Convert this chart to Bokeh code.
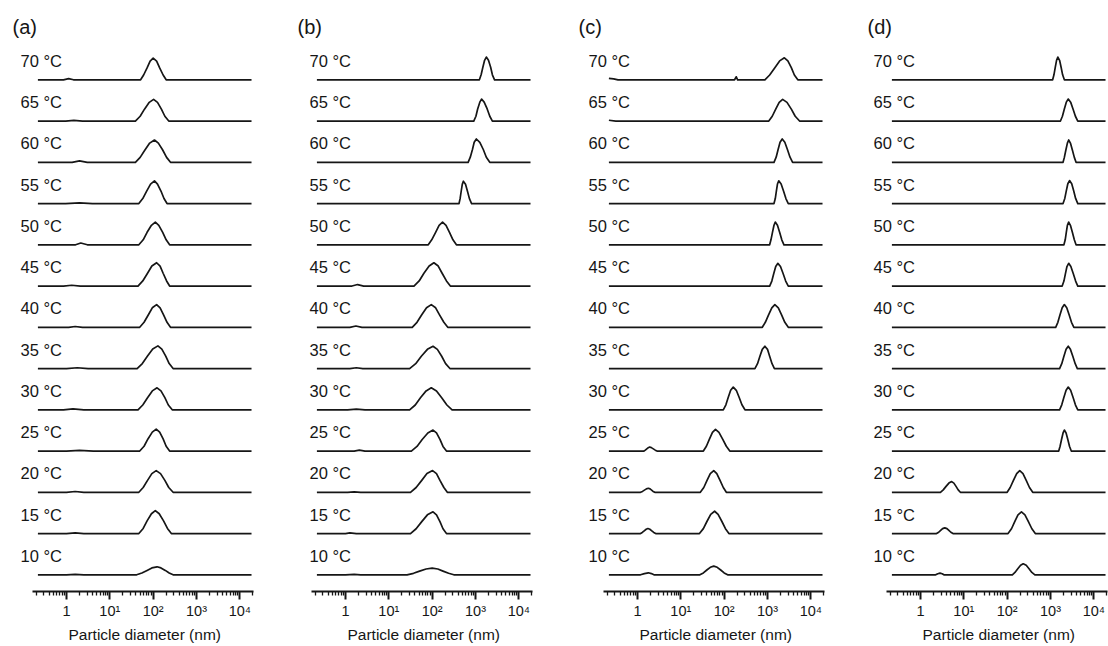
import numpy as np
from bokeh.plotting import figure
from bokeh.models import Range1d, FixedTicker, Label, Title
from bokeh.layouts import row
from bokeh.embed import file_html
from bokeh.resources import INLINE

# ---------------- data ----------------
temperatures = [70, 65, 60, 55, 50, 45, 40, 35, 30, 25, 20, 15, 10]
temp_labels = ["%d °C" % t for t in temperatures]
panel_tags = ["(a)", "(b)", "(c)", "(d)"]
major_ticks = [1, 10, 100, 1000, 10000]
major_tick_labels = ["1", "10¹", "10²", "10³", "10⁴"]
minor_ticks = [0.2, 0.3, 0.4, 0.5, 0.6, 0.7, 0.8, 0.9,
               2, 3, 4, 5, 6, 7, 8, 9,
               20, 30, 40, 50, 60, 70, 80, 90,
               200, 300, 400, 500, 600, 700, 800, 900,
               2000, 3000, 4000, 5000, 6000, 7000, 8000, 9000, 20000]
x_axis_title = "Particle diameter (nm)"

# Each curve: log10(diameter / nm) and relative intensity
# ---- panel (a)
a70_logd = [-0.66, -0.07, 0.05, 0.16, 1.71, 1.78, 1.86, 1.93, 2.00, 2.08, 2.15, 2.23, 2.30, 4.27]
a70_int = [0, 0, 1.2, 0, 0, 4.8, 11.9, 18.7, 21.7, 18.7, 11.9, 4.8, 0, 0]
a65_logd = [-0.66, -0.02, 0.17, 0.37, 1.59, 1.70, 1.80, 1.91, 2.01, 2.10, 2.19, 2.27, 2.36, 4.27]
a65_int = [0, 0, 0.7, 0, 0, 4.8, 11.9, 18.7, 21.7, 18.7, 11.9, 4.8, 0, 0]
a60_logd = [-0.66, 0.13, 0.30, 0.48, 1.59, 1.70, 1.81, 1.92, 2.03, 2.12, 2.22, 2.31, 2.40, 4.27]
a60_int = [0, 0, 1.5, 0, 0, 4.9, 12.3, 19.2, 22.3, 19.2, 12.3, 4.9, 0, 0]
a55_logd = [-0.66, -0.02, 0.30, 0.60, 1.67, 1.76, 1.85, 1.94, 2.03, 2.10, 2.18, 2.25, 2.32, 4.27]
a55_int = [0, 0, 0.7, 0, 0, 5.0, 12.5, 19.5, 22.7, 19.5, 12.5, 5.0, 0, 0]
a50_logd = [-0.66, 0.21, 0.33, 0.48, 1.67, 1.77, 1.86, 1.96, 2.05, 2.13, 2.22, 2.30, 2.38, 4.27]
a50_int = [0, 0, 1.8, 0, 0, 5.0, 12.5, 19.5, 22.7, 19.5, 12.5, 5.0, 0, 0]
a45_logd = [-0.66, -0.07, 0.12, 0.32, 1.65, 1.76, 1.87, 1.97, 2.08, 2.16, 2.23, 2.31, 2.38, 4.27]
a45_int = [0, 0, 0.8, 0, 0, 5.1, 12.8, 20.0, 23.3, 20.0, 12.8, 5.1, 0, 0]
a40_logd = [-0.66, 0.05, 0.20, 0.37, 1.69, 1.79, 1.89, 1.98, 2.08, 2.16, 2.24, 2.32, 2.40, 4.27]
a40_int = [0, 0, 0.8, 0, 0, 5.0, 12.5, 19.5, 22.7, 19.5, 12.5, 5.0, 0, 0]
a35_logd = [-0.66, 0.00, 0.25, 0.50, 1.63, 1.75, 1.87, 1.99, 2.11, 2.20, 2.29, 2.37, 2.46, 4.27]
a35_int = [0, 0, 0.8, 0, 0, 5.0, 12.5, 19.5, 22.7, 19.5, 12.5, 5.0, 0, 0]
a30_logd = [-0.66, -0.07, 0.15, 0.40, 1.65, 1.76, 1.87, 1.98, 2.09, 2.18, 2.27, 2.35, 2.44, 4.27]
a30_int = [0, 0, 1.0, 0, 0, 4.8, 12.1, 18.9, 22.0, 18.9, 12.1, 4.8, 0, 0]
a25_logd = [-0.66, 0.00, 0.30, 0.62, 1.69, 1.79, 1.88, 1.98, 2.07, 2.15, 2.23, 2.30, 2.38, 4.27]
a25_int = [0, 0, 0.6, 0, 0, 4.8, 12.1, 18.9, 22.0, 18.9, 12.1, 4.8, 0, 0]
a20_logd = [-0.66, 0.00, 0.20, 0.40, 1.67, 1.77, 1.87, 1.97, 2.07, 2.17, 2.27, 2.36, 2.46, 4.27]
a20_int = [0, 0, 0.8, 0, 0, 4.8, 11.9, 18.7, 21.7, 18.7, 11.9, 4.8, 0, 0]
a15_logd = [-0.66, 0.00, 0.20, 0.40, 1.67, 1.77, 1.86, 1.96, 2.05, 2.14, 2.24, 2.33, 2.42, 4.27]
a15_int = [0, 0, 0.6, 0, 0, 5.1, 12.7, 19.8, 23.0, 19.8, 12.7, 5.1, 0, 0]
a10_logd = [-0.66, 0.00, 0.20, 0.40, 1.62, 1.74, 1.86, 1.97, 2.09, 2.18, 2.28, 2.37, 2.46, 4.27]
a10_int = [0, 0, 0.5, 0, 0, 1.8, 4.4, 6.9, 8.0, 6.9, 4.4, 1.8, 0, 0]

# ---- panel (b)
b70_logd = [-0.66, 3.09, 3.13, 3.17, 3.21, 3.25, 3.30, 3.35, 3.39, 3.44, 4.27]
b70_int = [0, 0, 5.0, 12.5, 19.5, 22.7, 19.5, 12.5, 5.0, 0, 0]
b65_logd = [-0.66, 2.96, 3.01, 3.05, 3.10, 3.14, 3.20, 3.27, 3.33, 3.39, 4.27]
b65_int = [0, 0, 4.8, 12.1, 18.9, 22.0, 18.9, 12.1, 4.8, 0, 0]
b60_logd = [-0.66, 2.83, 2.88, 2.93, 2.97, 3.02, 3.10, 3.18, 3.25, 3.33, 4.27]
b60_int = [0, 0, 5.1, 12.8, 20.0, 23.3, 20.0, 12.8, 5.1, 0, 0]
b55_logd = [-0.66, 2.62, 2.645, 2.67, 2.695, 2.72, 2.77, 2.815, 2.86, 2.91, 4.27]
b55_int = [0, 0, 4.9, 12.3, 19.2, 22.3, 19.2, 12.3, 4.9, 0, 0]
b50_logd = [-0.66, 1.91, 1.99, 2.08, 2.16, 2.24, 2.32, 2.40, 2.48, 2.56, 4.27]
b50_int = [0, 0, 5.0, 12.5, 19.5, 22.7, 19.5, 12.5, 5.0, 0, 0]
b45_logd = [-0.66, 0.15, 0.28, 0.42, 1.58, 1.70, 1.81, 1.93, 2.04, 2.14, 2.23, 2.33, 2.42, 4.27]
b45_int = [0, 0, 1.5, 0, 0, 5.1, 12.8, 20.0, 23.3, 20.0, 12.8, 5.1, 0, 0]
b40_logd = [-0.66, 0.10, 0.24, 0.38, 1.54, 1.65, 1.76, 1.87, 1.98, 2.08, 2.17, 2.27, 2.36, 4.27]
b40_int = [0, 0, 1.3, 0, 0, 5.0, 12.5, 19.5, 22.7, 19.5, 12.5, 5.0, 0, 0]
b35_logd = [-0.66, 0.10, 0.25, 0.40, 1.48, 1.62, 1.75, 1.89, 2.02, 2.12, 2.22, 2.31, 2.41, 4.27]
b35_int = [0, 0, 0.8, 0, 0, 4.9, 12.3, 19.2, 22.3, 19.2, 12.3, 4.9, 0, 0]
b30_logd = [-0.66, 0.05, 0.25, 0.45, 1.48, 1.61, 1.73, 1.86, 1.98, 2.10, 2.22, 2.34, 2.46, 4.27]
b30_int = [0, 0, 0.7, 0, 0, 4.8, 12.1, 18.9, 22.0, 18.9, 12.1, 4.8, 0, 0]
b25_logd = [-0.66, 0.20, 0.32, 0.45, 1.52, 1.65, 1.77, 1.90, 2.02, 2.10, 2.18, 2.25, 2.33, 4.27]
b25_int = [0, 0, 1.0, 0, 0, 4.6, 11.6, 18.1, 21.0, 18.1, 11.6, 4.6, 0, 0]
b20_logd = [-0.66, 0.05, 0.20, 0.35, 1.50, 1.63, 1.76, 1.88, 2.01, 2.10, 2.18, 2.27, 2.35, 4.27]
b20_int = [0, 0, 0.5, 0, 0, 4.8, 11.9, 18.7, 21.7, 18.7, 11.9, 4.8, 0, 0]
b15_logd = [-0.66, 0.00, 0.10, 0.25, 1.50, 1.63, 1.76, 1.89, 2.02, 2.10, 2.18, 2.25, 2.33, 4.27]
b15_int = [0, 0, 0.7, 0, 0, 4.8, 11.9, 18.7, 21.7, 18.7, 11.9, 4.8, 0, 0]
b10_logd = [-0.66, 0.00, 0.20, 0.35, 1.42, 1.57, 1.71, 1.86, 2.00, 2.13, 2.25, 2.38, 2.50, 4.27]
b10_int = [0, 0, 0.5, 0, 0, 1.5, 3.7, 5.8, 6.7, 5.8, 3.7, 1.5, 0, 0]

# ---- panel (c)
c70_logd = [-0.66, -0.55, -0.45, 2.24, 2.28, 2.31, 2.94, 3.05, 3.17, 3.28, 3.39, 3.47, 3.55, 3.62, 3.70, 4.27]
c70_int = [1.5, 1.0, 0, 0, 3.0, 0, 0, 4.8, 12.1, 18.9, 22.0, 18.9, 12.1, 4.8, 0, 0]
c65_logd = [-0.66, -0.50, 3.03, 3.11, 3.19, 3.27, 3.35, 3.45, 3.55, 3.64, 3.74, 4.27]
c65_int = [0.8, 0, 0, 4.8, 11.9, 18.7, 21.7, 18.7, 11.9, 4.8, 0, 0]
c60_logd = [-0.66, 3.15, 3.20, 3.245, 3.29, 3.34, 3.40, 3.46, 3.52, 3.58, 4.27]
c60_int = [0, 0, 5.1, 12.8, 20.0, 23.3, 20.0, 12.8, 5.1, 0, 0]
c55_logd = [-0.66, 3.15, 3.18, 3.205, 3.23, 3.26, 3.315, 3.37, 3.425, 3.48, 4.27]
c55_int = [0, 0, 5.0, 12.5, 19.5, 22.7, 19.5, 12.5, 5.0, 0, 0]
c50_logd = [-0.66, 3.05, 3.08, 3.115, 3.15, 3.18, 3.23, 3.28, 3.33, 3.38, 4.27]
c50_int = [0, 0, 5.0, 12.5, 19.5, 22.7, 19.5, 12.5, 5.0, 0, 0]
c45_logd = [-0.66, 3.05, 3.10, 3.145, 3.19, 3.24, 3.30, 3.36, 3.42, 3.48, 4.27]
c45_int = [0, 0, 5.0, 12.5, 19.5, 22.7, 19.5, 12.5, 5.0, 0, 0]
c40_logd = [-0.66, 2.88, 2.95, 3.025, 3.10, 3.17, 3.25, 3.325, 3.40, 3.48, 4.27]
c40_int = [0, 0, 5.0, 12.5, 19.5, 22.7, 19.5, 12.5, 5.0, 0, 0]
c35_logd = [-0.66, 2.71, 2.77, 2.825, 2.88, 2.94, 3.00, 3.05, 3.105, 3.16, 4.27]
c35_int = [0, 0, 4.9, 12.3, 19.2, 22.3, 19.2, 12.3, 4.9, 0, 0]
c30_logd = [-0.66, 1.98, 2.04, 2.095, 2.15, 2.21, 2.28, 2.345, 2.41, 2.48, 4.27]
c30_int = [0, 0, 5.0, 12.5, 19.5, 22.7, 19.5, 12.5, 5.0, 0, 0]
c25_logd = [-0.66, 0.15, 0.18, 0.215, 0.25, 0.28, 0.32, 0.365, 0.41, 0.45,
            1.52, 1.59, 1.66, 1.73, 1.80, 1.88, 1.965, 2.05, 2.13, 4.27]
c25_int = [0, 0, 0.9, 2.2, 3.4, 4.0, 3.4, 2.2, 0.9, 0,
           0, 4.8, 11.9, 18.7, 21.7, 18.7, 11.9, 4.8, 0, 0]
c20_logd = [-0.66, 0.07, 0.115, 0.16, 0.205, 0.25, 0.29, 0.325, 0.36, 0.40,
            1.45, 1.53, 1.605, 1.68, 1.76, 1.83, 1.905, 1.98, 2.05, 4.27]
c20_int = [0, 0, 0.9, 2.2, 3.4, 4.0, 3.4, 2.2, 0.9, 0,
           0, 4.8, 11.9, 18.7, 21.7, 18.7, 11.9, 4.8, 0, 0]
c15_logd = [-0.66, 0.07, 0.11, 0.155, 0.20, 0.24, 0.285, 0.33, 0.375, 0.42,
            1.43, 1.52, 1.605, 1.69, 1.78, 1.86, 1.945, 2.03, 2.11, 4.27]
c15_int = [0, 0, 1.1, 2.75, 4.3, 5.0, 4.3, 2.75, 1.1, 0,
           0, 4.9, 12.3, 19.2, 22.3, 19.2, 12.3, 4.9, 0, 0]
c10_logd = [-0.66, 0.07, 0.16, 0.25, 0.32, 0.38, 1.44, 1.52, 1.60, 1.68, 1.76, 1.84, 1.92, 2.00, 2.08, 4.27]
c10_int = [0, 0, 1.2, 2.0, 1.2, 0, 0, 1.9, 4.8, 7.5, 8.7, 7.5, 4.8, 1.9, 0, 0]

# ---- panel (d)
d70_logd = [-0.66, 3.05, 3.08, 3.11, 3.14, 3.17, 3.21, 3.245, 3.28, 3.32, 4.27]
d70_int = [0, 0, 5.0, 12.5, 19.5, 22.7, 19.5, 12.5, 5.0, 0, 0]
d65_logd = [-0.66, 3.23, 3.275, 3.32, 3.365, 3.41, 3.465, 3.52, 3.575, 3.63, 4.27]
d65_int = [0, 0, 4.8, 12.1, 18.9, 22.0, 18.9, 12.1, 4.8, 0, 0]
d60_logd = [-0.66, 3.29, 3.32, 3.355, 3.39, 3.42, 3.46, 3.505, 3.55, 3.59, 4.27]
d60_int = [0, 0, 4.9, 12.3, 19.2, 22.3, 19.2, 12.3, 4.9, 0, 0]
d55_logd = [-0.66, 3.29, 3.33, 3.365, 3.40, 3.44, 3.49, 3.535, 3.58, 3.63, 4.27]
d55_int = [0, 0, 5.1, 12.7, 19.8, 23.0, 19.8, 12.7, 5.1, 0, 0]
d50_logd = [-0.66, 3.31, 3.34, 3.365, 3.39, 3.42, 3.46, 3.505, 3.55, 3.59, 4.27]
d50_int = [0, 0, 5.0, 12.5, 19.5, 22.7, 19.5, 12.5, 5.0, 0, 0]
d45_logd = [-0.66, 3.27, 3.31, 3.345, 3.38, 3.42, 3.47, 3.525, 3.58, 3.63, 4.27]
d45_int = [0, 0, 5.0, 12.5, 19.5, 22.7, 19.5, 12.5, 5.0, 0, 0]
d40_logd = [-0.66, 3.12, 3.17, 3.22, 3.27, 3.32, 3.375, 3.43, 3.485, 3.54, 4.27]
d40_int = [0, 0, 5.0, 12.5, 19.5, 22.7, 19.5, 12.5, 5.0, 0, 0]
d35_logd = [-0.66, 3.21, 3.26, 3.31, 3.36, 3.41, 3.46, 3.515, 3.57, 3.62, 4.27]
d35_int = [0, 0, 4.9, 12.3, 19.2, 22.3, 19.2, 12.3, 4.9, 0, 0]
d30_logd = [-0.66, 3.21, 3.26, 3.31, 3.36, 3.41, 3.465, 3.52, 3.575, 3.63, 4.27]
d30_int = [0, 0, 5.0, 12.5, 19.5, 22.7, 19.5, 12.5, 5.0, 0, 0]
d25_logd = [-0.66, 3.19, 3.22, 3.255, 3.29, 3.32, 3.36, 3.40, 3.44, 3.48, 4.27]
d25_int = [0, 0, 4.6, 11.6, 18.1, 21.0, 18.1, 11.6, 4.6, 0, 0]
d20_logd = [-0.66, 0.46, 0.525, 0.59, 0.655, 0.72, 0.77, 0.82, 0.87, 0.92,
            2.00, 2.07, 2.145, 2.22, 2.29, 2.365, 2.44, 2.515, 2.59, 4.27]
d20_int = [0, 0, 2.4, 5.9, 9.2, 10.7, 9.2, 5.9, 2.4, 0,
           0, 4.8, 11.9, 18.7, 21.7, 18.7, 11.9, 4.8, 0, 0]
d15_logd = [-0.66, 0.37, 0.42, 0.465, 0.51, 0.56, 0.61, 0.655, 0.70, 0.75,
            2.02, 2.10, 2.175, 2.25, 2.33, 2.41, 2.49, 2.57, 2.65, 4.27]
d15_int = [0, 0, 1.3, 3.1, 4.9, 5.7, 4.9, 3.1, 1.3, 0,
           0, 4.8, 11.9, 18.7, 21.7, 18.7, 11.9, 4.8, 0, 0]
d10_logd = [-0.66, 0.35, 0.40, 0.45, 0.50, 0.54, 2.12, 2.18, 2.245, 2.31, 2.37, 2.44, 2.505, 2.57, 2.64, 4.27]
d10_int = [0, 0, 1.1, 1.7, 1.1, 0, 0, 2.4, 6.1, 9.5, 11.0, 9.5, 6.1, 2.4, 0, 0]

panel_a = [(a70_logd, a70_int), (a65_logd, a65_int), (a60_logd, a60_int), (a55_logd, a55_int),
           (a50_logd, a50_int), (a45_logd, a45_int), (a40_logd, a40_int), (a35_logd, a35_int),
           (a30_logd, a30_int), (a25_logd, a25_int), (a20_logd, a20_int), (a15_logd, a15_int),
           (a10_logd, a10_int)]
panel_b = [(b70_logd, b70_int), (b65_logd, b65_int), (b60_logd, b60_int), (b55_logd, b55_int),
           (b50_logd, b50_int), (b45_logd, b45_int), (b40_logd, b40_int), (b35_logd, b35_int),
           (b30_logd, b30_int), (b25_logd, b25_int), (b20_logd, b20_int), (b15_logd, b15_int),
           (b10_logd, b10_int)]
panel_c = [(c70_logd, c70_int), (c65_logd, c65_int), (c60_logd, c60_int), (c55_logd, c55_int),
           (c50_logd, c50_int), (c45_logd, c45_int), (c40_logd, c40_int), (c35_logd, c35_int),
           (c30_logd, c30_int), (c25_logd, c25_int), (c20_logd, c20_int), (c15_logd, c15_int),
           (c10_logd, c10_int)]
panel_d = [(d70_logd, d70_int), (d65_logd, d65_int), (d60_logd, d60_int), (d55_logd, d55_int),
           (d50_logd, d50_int), (d45_logd, d45_int), (d40_logd, d40_int), (d35_logd, d35_int),
           (d30_logd, d30_int), (d25_logd, d25_int), (d20_logd, d20_int), (d15_logd, d15_int),
           (d10_logd, d10_int)]

# ---------------- layout / style ----------------
FONT = "Liberation Sans"
INK = "#161616"
H = 646
FRAME_H = 591            # frame top at 0, axis line at 591
BASE0 = 16.7             # baseline of lowest trace (data units = px)
STEP = 41.25             # vertical offset between traces
DEC = 43.33              # pixels per decade
AX_START = 10 ** -0.785  # visible extent of the x axis
AX_END = 10 ** 4.316

# (figure width, px of the "1" tick from figure left, right border, temp-label dx, tag dx)
panel_layout = [
    (280, 66, 27, -12, -20),
    (280, 65, 28, -2, -14),
    (280, 77, 16, -15, -25),
    (268, 80, 1, -13, -19),
]


def make_panel(tag, curves, width, origin, br, lab_dx, tag_dx):
    frame_w = width - br
    x_range = Range1d(10 ** (-origin / DEC), 10 ** ((frame_w - origin) / DEC))
    p = figure(width=width, height=H, x_axis_type="log",
               x_range=x_range, y_range=Range1d(0, FRAME_H),
               output_backend="svg", toolbar_location=None, y_axis_location=None,
               min_border_left=0, min_border_right=br, min_border_top=0,
               min_border_bottom=H - FRAME_H)
    p.outline_line_color = None
    p.grid.visible = False
    p.background_fill_color = "white"
    p.border_fill_color = "white"

    n = len(curves)
    for i, (logd, inten) in enumerate(curves):
        base = BASE0 + STEP * (n - 1 - i)
        xs = 10 ** np.array(logd, dtype=float)
        ys = base + np.array(inten, dtype=float)
        p.line(xs, ys, line_color=INK, line_width=1.7, line_join="round")
        p.add_layout(Label(x=AX_START, y=base + 19, x_offset=lab_dx, text=temp_labels[i],
                           text_font=FONT, text_font_size="16.5px", text_color=INK,
                           text_align="left", text_baseline="middle"))

    p.add_layout(Label(x=AX_START, y=FRAME_H - 26.5, x_offset=tag_dx, text=tag,
                       text_font=FONT, text_font_size="20px", text_color=INK,
                       text_align="left", text_baseline="middle"))

    ax = p.xaxis[0]
    ax.bounds = (AX_START, AX_END)
    ax.ticker = FixedTicker(ticks=major_ticks, minor_ticks=minor_ticks)
    ax.major_label_overrides = {t: s for t, s in zip(major_ticks, major_tick_labels)}
    ax.axis_line_color = INK
    ax.axis_line_width = 2.2
    ax.major_tick_line_color = INK
    ax.major_tick_line_width = 2
    ax.major_tick_in = 0
    ax.major_tick_out = 8
    ax.minor_tick_line_color = INK
    ax.minor_tick_line_width = 1.3
    ax.minor_tick_in = 0
    ax.minor_tick_out = 4
    ax.major_label_text_font = FONT
    ax.major_label_text_font_size = "14.5px"
    ax.major_label_text_color = INK
    ax.major_label_standoff = 3

    # axis title centred under the visible axis extent (not the wider frame)
    p.add_layout(Title(text=x_axis_title, align="left", offset=origin + 2,
                       text_font=FONT, text_font_size="15.5px", text_font_style="normal",
                       text_color=INK, standoff=4), "below")
    return p


figs = []
for tag, curves, lay in zip(panel_tags, [panel_a, panel_b, panel_c, panel_d], panel_layout):
    figs.append(make_panel(tag, curves, *lay))

layout = row(*figs, spacing=0)
open("out.html", "w").write(file_html(layout, INLINE))
